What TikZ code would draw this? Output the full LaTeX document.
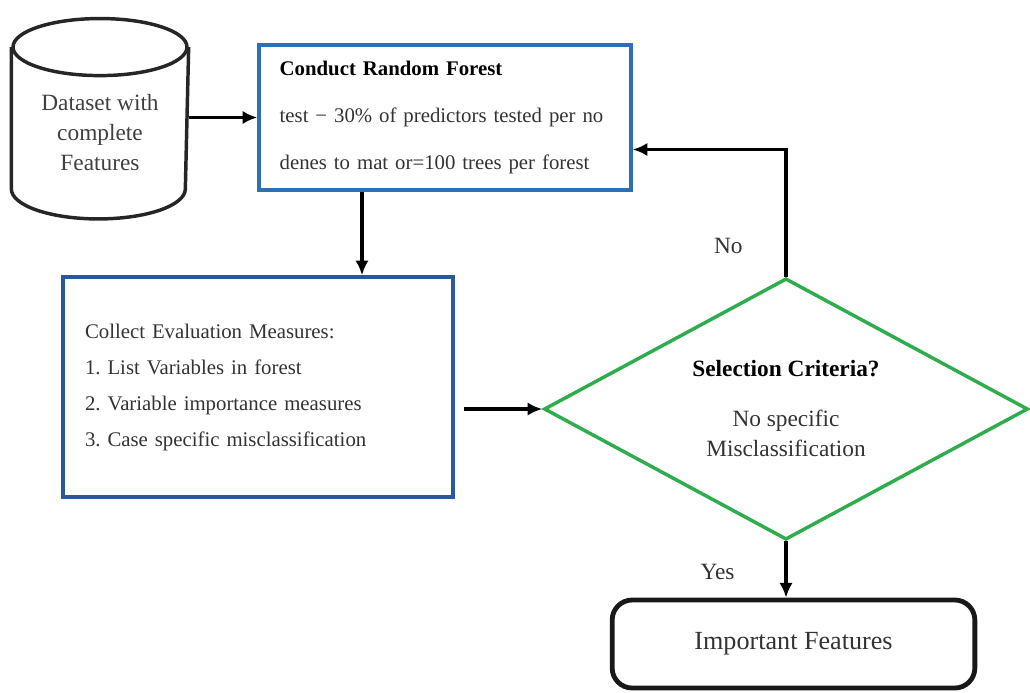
\documentclass[tikz,border=0pt]{standalone}
\usepackage{fontspec}
\setmainfont{Liberation Serif}
\usepackage{tikz}
\usetikzlibrary{arrows.meta,shapes.geometric,positioning,calc}
\definecolor{boxblue}{RGB}{46,112,180}
\definecolor{darkblue}{RGB}{42,88,152}
\definecolor{critgreen}{RGB}{46,172,78}
\frenchspacing
\tikzset{
    procbox/.style={
           rectangle,
           draw=boxblue, line width=2.6pt,
           align=left,
           text=black!80,
           inner xsep=16.5pt,
           },
    decision/.style={
           diamond, aspect=1.85,
           draw=critgreen, line width=2.6pt,
           align=center,
           inner sep=0pt,
           minimum width=363pt, minimum height=196pt,
           },
    dbase/.style={
           draw=black!85, line width=2.6pt,
           },
    dtext/.style={
           rectangle,
           minimum width=130.5pt, minimum height=126.4pt,
           align=center, text=black!75,
           font=\fontsize{17.5}{22.5}\selectfont,
           },
    terminal/.style={
           rectangle, rounded corners=15pt,
           draw=black!90, line width=3.6pt,
           minimum width=272pt, minimum height=66pt,
           text=black!80,
           },
    answer/.style={
           font=\fontsize{17.5}{20}\selectfont,
           text=black!80,
           },
}

\begin{document}
\begin{tikzpicture}[x=0.75pt, y=-0.75pt, >={Latex[length=11pt,width=10pt]}, line width=2.5pt]
 \useasboundingbox (0,0) rectangle (1030,692);

 % Dataset: body of the cylinder, from centre of the top cap down
 \node[dtext] (data) at (100,133) {Dataset with\\complete\\Features};
 \draw[dbase] (data.north) ellipse [x radius=65.25pt, y radius=21.4pt];
 \draw[dbase] (data.north west) -- ($(data.south west)+(0,-30)$)
	arc[start angle=180, end angle=360, x radius=65.25pt, y radius=22.5pt]
	-- (data.north east);

 % Random forest step, three rows of text
 \node[procbox,
  text width=248pt,	% box width minus the two insets
  inner xsep=15.5pt,
  minimum height=109pt,
  font=\fontsize{15.6}{35}\selectfont] (forest) at (445,117.5)
	{\textbf{\color{black}Conduct Random Forest}\\
	 test − 30\% of predictors tested per no\\
	 denes to mat or=100 trees per forest};

 % Evaluation measures, darker border
 \node[procbox, draw=darkblue,
  text width=259.5pt,
  minimum height=165pt,
  font=\fontsize{15.6}{27}\selectfont] (collect) at (258,387)
	{Collect Evaluation Measures:\\
	 1. List Variables in forest\\
	 2. Variable importance measures\\
	 3. Case specific misclassification};

 % Decision
 \node[decision, font=\fontsize{17.5}{22.5}\selectfont] (crit) at (786,409)
	{\textbf{Selection Criteria?}\\[15pt]
	 {\color{black!80}No specific}\\
	 {\color{black!80}Misclassification}};

 % Result
 \node[terminal, font=\fontsize{19.6}{24}\selectfont] (imp) at (793.5,644)
	{Important Features};

 \coordinate (split) at ($(forest.south)+(-83,0)$);
 \coordinate (back) at ($(forest.east)+(0,32)$);

 \draw[->] (data.east |- forest.west) -- (forest.west);
 \draw[->] (split) -- (split |- collect.north);
 \draw[->, shorten <=7pt] (collect.east |- crit.west) -- (crit.west);
 \draw[->] (crit.north) |- node[answer, pos=0.12, left=28pt] {No} (back);
 \draw[->] (crit.south) -- node[answer, pos=0.55, left=34pt] {Yes} (crit.south |- imp.north);
\end{tikzpicture}
\end{document}
